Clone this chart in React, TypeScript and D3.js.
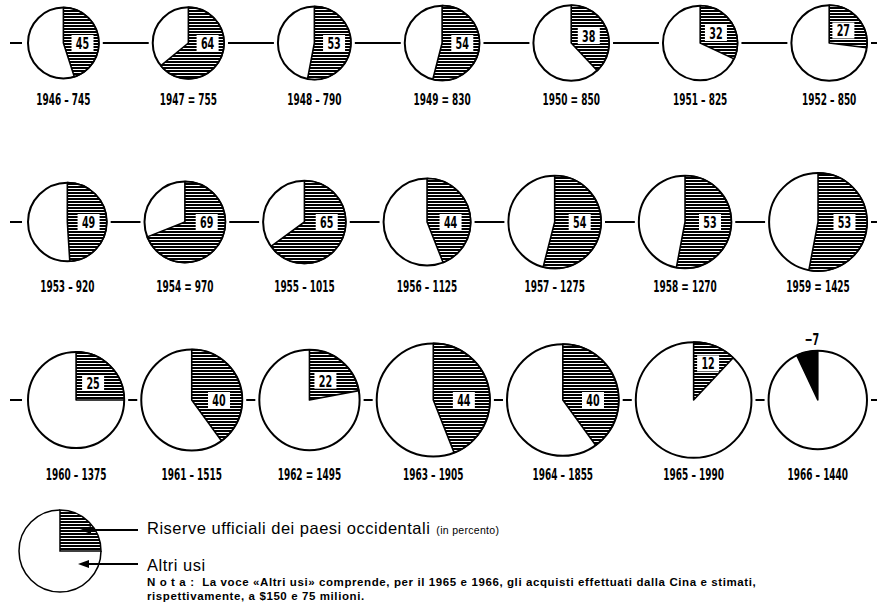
import React from 'react';
import * as d3 from 'd3';

const years = [1946, 1947, 1948, 1949, 1950, 1951, 1952, 1953, 1954, 1955, 1956, 1957, 1958, 1959, 1960, 1961, 1962, 1963, 1964, 1965, 1966];
const totals = [745, 755, 790, 830, 850, 825, 850, 920, 970, 1015, 1125, 1275, 1270, 1425, 1375, 1515, 1495, 1905, 1855, 1990, 1440];
const reservePct = [45, 64, 53, 54, 38, 32, 27, 49, 69, 65, 44, 54, 53, 53, 25, 40, 22, 44, 40, 12, -7];
const separators = ['–', '=', '–', '=', '=', '–', '–', '–', '=', '–', '–', '–', '=', '=', '–', '–', '=', '–', '–', '–', '–'];

const legendReserves = 'Riserve ufficiali dei paesi occidentali';
const legendReservesUnit = '(in percento)';
const legendOther = 'Altri usi';
const noteLine1 = 'N o t a :  La voce «Altri usi» comprende, per il 1965 e 1966, gli acquisti effettuati dalla Cina e stimati,';
const noteLine2 = 'rispettivamente, a $150 e 75 milioni.';

const W = 877;
const H = 609;
const PER_ROW = 7;
const rowCY = [43, 222, 400];
const rowLabelY = [105, 292, 480];
const rowLeft = 28;
const rowRight = 867;

const rScale = d3.scaleSqrt().domain([0, 2000]).range([0, 58]);
const arcGen = d3.arc<any>();

type Pie = { year: number; total: number; pct: number; sep: string; r: number; cx: number; cy: number; row: number };

function layout(): Pie[] {
  const items: Pie[] = [];
  const nRows = Math.ceil(years.length / PER_ROW);
  for (let row = 0; row < nRows; row++) {
    const idx = d3.range(row * PER_ROW, Math.min(years.length, (row + 1) * PER_ROW));
    const radii = idx.map((i) => rScale(totals[i]));
    const sumD = d3.sum(radii) * 2;
    const gap = (rowRight - rowLeft - sumD) / (idx.length - 1);
    let x = rowLeft;
    idx.forEach((i, k) => {
      const r = radii[k];
      items.push({ year: years[i], total: totals[i], pct: reservePct[i], sep: separators[i], r, cx: x + r, cy: rowCY[row], row });
      x += 2 * r + gap;
    });
  }
  return items;
}

const FONT = "'DejaVu Sans', sans-serif";
const SANS = "'Liberation Sans', Arial, sans-serif";

function Arrow({ x1, x2, y }: { x1: number; x2: number; y: number }) {
  return (
    <g>
      <line x1={x1} x2={x2 + 8} y1={y} y2={y} stroke="#000" strokeWidth={2} />
      <path d={`M${x2},${y} L${x2 + 11},${y - 4} L${x2 + 11},${y + 4} Z`} fill="#000" />
    </g>
  );
}

export default function App() {
  const pies = layout();
  const rows = d3.groups(pies, (p) => p.row);

  const connectors: { x1: number; x2: number; y: number }[] = [];
  rows.forEach(([, ps]) => {
    const y = ps[0].cy;
    connectors.push({ x1: 10, x2: ps[0].cx - ps[0].r - 6, y });
    for (let k = 0; k < ps.length - 1; k++) {
      connectors.push({ x1: ps[k].cx + ps[k].r + 4, x2: ps[k + 1].cx - ps[k + 1].r - 4, y });
    }
    const last = ps[ps.length - 1];
    connectors.push({ x1: last.cx + last.r + 4, x2: W, y });
  });

  const lg = { cx: 60, cy: 551, r: 41 };
  const lgArc = d3.path();
  lgArc.moveTo(lg.cx + lg.r, lg.cy);
  lgArc.arc(lg.cx, lg.cy, lg.r, 0, 1.5 * Math.PI);

  return (
    <svg width={W} height={H} style={{ position: 'absolute', left: 0, top: 0, background: '#fff' }}>
      <defs>
        <pattern id="hatch" patternUnits="userSpaceOnUse" width={6} height={3}>
          <rect width={6} height={3} fill="#fff" />
          <rect width={6} height={2} fill="#000" />
        </pattern>
      </defs>
      <rect width={W} height={H} fill="#fff" />

      {connectors.map((c, i) => (
        <line key={'c' + i} x1={c.x1} x2={c.x2} y1={c.y} y2={c.y} stroke="#000" strokeWidth={2} />
      ))}

      {pies.map((p) => {
        const a = (p.pct / 100) * 2 * Math.PI;
        const pos = p.pct >= 0;
        const wedge = arcGen({ innerRadius: 0, outerRadius: p.r, startAngle: pos ? 0 : a, endAngle: pos ? a : 0 });
        let labAngle: number, labDist: number;
        if (p.pct >= 40) {
          labAngle = Math.PI / 2;
          labDist = 0.54 * p.r;
        } else {
          labAngle = a / 2;
          labDist = p.pct < 20 ? 0.68 * p.r : 0.5 * p.r;
        }
        const lx = p.cx + Math.sin(labAngle) * labDist;
        const ly = p.cy - Math.cos(labAngle) * labDist;
        const txt = String(p.pct);
        const bw = txt.length * 8 + 6;
        const bh = 16;
        return (
          <g key={p.year}>
            <circle cx={p.cx} cy={p.cy} r={p.r} fill="#fff" stroke="#000" strokeWidth={2} />
            <path d={wedge || ''} transform={`translate(${p.cx},${p.cy})`} fill={pos ? 'url(#hatch)' : '#000'} stroke="#000" strokeWidth={1.6} strokeLinejoin="round" />
            {pos ? (
              <g>
                <rect x={lx - bw / 2} y={ly - bh / 2} width={bw} height={bh} fill="#fff" />
                <text transform={`translate(${lx},${ly + 6}) scale(0.6,1)`} textAnchor="middle" fontFamily={FONT} fontWeight="bold" fontSize={16} fill="#000">
                  {txt}
                </text>
              </g>
            ) : (
              <text transform={`translate(${p.cx - 6},${p.cy - p.r - 6}) scale(0.6,1)`} textAnchor="middle" fontFamily={FONT} fontWeight="bold" fontSize={16} fill="#000">
                {'−' + Math.abs(p.pct)}
              </text>
            )}
            <text transform={`translate(${p.cx},${rowLabelY[p.row]}) scale(0.56,1)`} textAnchor="middle" fontFamily={FONT} fontWeight="bold" fontSize={16} fill="#000">
              {`${p.year} ${p.sep} ${p.total}`}
            </text>
          </g>
        );
      })}

      <g>
        <path d={lgArc.toString()} fill="none" stroke="#000" strokeWidth={1.5} />
        <path
          d={arcGen({ innerRadius: 0, outerRadius: lg.r, startAngle: 0, endAngle: Math.PI / 2 }) || ''}
          transform={`translate(${lg.cx},${lg.cy})`}
          fill="url(#hatch)"
          stroke="#000"
          strokeWidth={1.5}
        />
        <Arrow x1={138} x2={80} y={530} />
        <Arrow x1={138} x2={78} y={564} />
        <text x={147} y={534} fontFamily={SANS} fontSize={16.5} letterSpacing={0.5} fill="#000">
          {legendReserves}
          <tspan fontSize={10.5} letterSpacing={0.3} dx={6}>{legendReservesUnit}</tspan>
        </text>
        <text x={147} y={571} fontFamily={SANS} fontSize={16.5} letterSpacing={0.5} fill="#000">
          {legendOther}
        </text>
        <text x={147} y={586} fontFamily={SANS} fontSize={11.5} fontWeight="bold" letterSpacing={0.6} fill="#000" style={{ whiteSpace: 'pre' }}>
          {noteLine1}
        </text>
        <text x={147} y={600} fontFamily={SANS} fontSize={11.5} fontWeight="bold" letterSpacing={0.6} fill="#000">
          {noteLine2}
        </text>
      </g>
    </svg>
  );
}
